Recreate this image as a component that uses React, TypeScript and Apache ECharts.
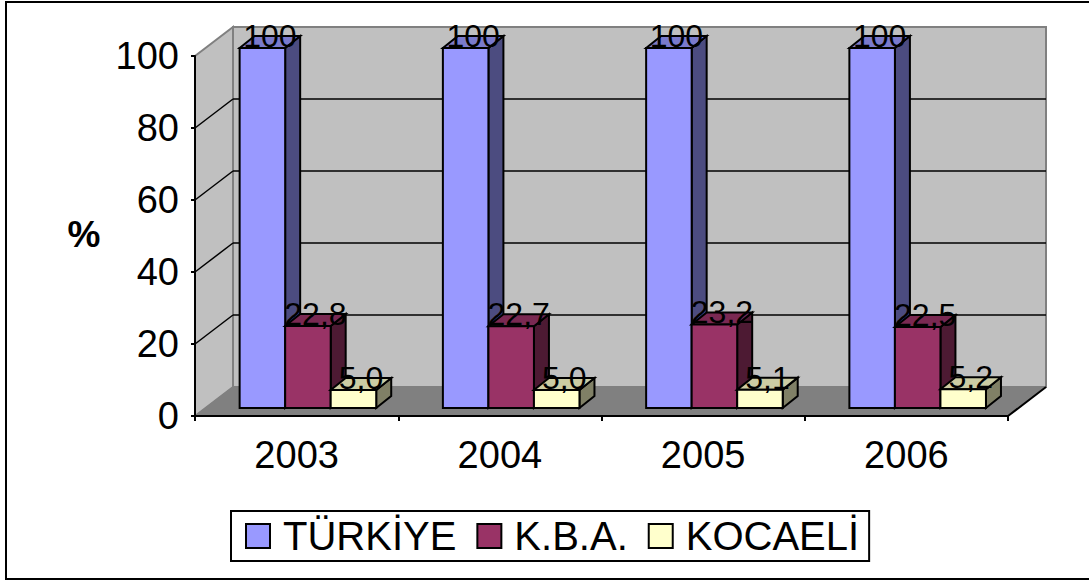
import React, { useEffect, useRef } from "react";
import * as echarts from "echarts";

const categories = ["2003", "2004", "2005", "2006"];
const seriesNames = ["TÜRKİYE", "K.B.A.", "KOCAELİ"];
const turkiye = [100, 100, 100, 100];
const kba = [22.8, 22.7, 23.2, 22.5];
const kocaeli = [5.0, 5.0, 5.1, 5.2];
const seriesValues = [turkiye, kba, kocaeli];
const seriesDecimals = [0, 1, 1];
const yTicks = [0, 20, 40, 60, 80, 100];

const FONT = "'Liberation Sans', Arial, sans-serif";
const FRONT = ["#9999FF", "#993366", "#FFFFCC"];
const TOP = ["#7A7ACC", "#7A2952", "#CCCCA3"];
const SIDE = ["#4C4C80", "#4D1A33", "#808066"];

const WALL_D = [38, -29];
const BAR_PLANE = [10, -8];
const BAR_D = [15, -12];
const BAR_FRAC = 0.224;
const BAR_SHIFT = 1.3;

function fmt(v: number, d: number) {
  return v.toFixed(d).replace(".", ",");
}

export default function App() {
  const ref = useRef<HTMLDivElement>(null);
  useEffect(() => {
    const chart = echarts.init(ref.current!, null, { renderer: "svg" });
    const yMax = yTicks[yTicks.length - 1];

    const wallsSeries: any = {
      type: "custom",
      name: "walls",
      coordinateSystem: "cartesian2d",
      silent: true,
      z: 1,
      data: [[0, 0]],
      renderItem: (params: any, api: any) => {
        const band = api.size([1, 0])[0];
        const xl = api.coord([0, 0])[0] - band / 2;
        const xr = api.coord([categories.length - 1, 0])[0] + band / 2;
        const y0 = api.coord([0, 0])[1];
        const yT = api.coord([0, yMax])[1];
        const [dx, dy] = WALL_D;
        const children: any[] = [
          {
            type: "polygon",
            shape: { points: [[xl, yT], [xl + dx, yT + dy], [xl + dx, y0 + dy], [xl, y0]] },
            style: { fill: "#C0C0C0", stroke: "#808080", lineWidth: 2 },
          },
          {
            type: "rect",
            shape: { x: xl + dx, y: yT + dy, width: xr - xl, height: y0 - yT },
            style: { fill: "#C0C0C0", stroke: "#808080", lineWidth: 2 },
          },
          {
            type: "polygon",
            shape: { points: [[xl, y0], [xl + dx, y0 + dy], [xr + dx, y0 + dy], [xr, y0]] },
            style: { fill: "#808080", stroke: "#808080", lineWidth: 1 },
          },
          {
            type: "line",
            shape: { x1: xr, y1: y0, x2: xr + dx, y2: y0 + dy },
            style: { stroke: "#000", lineWidth: 2 },
          },
        ];
        yTicks.forEach((t) => {
          if (t === 0 || t === yMax) return;
          const y = api.coord([0, t])[1];
          children.push({
            type: "line",
            shape: { x1: xl + dx, y1: y + dy, x2: xr + dx, y2: y + dy },
            style: { stroke: "#000", lineWidth: 1.5 },
          });
          children.push({
            type: "line",
            shape: { x1: xl, y1: y, x2: xl + dx, y2: y + dy },
            style: { stroke: "#000", lineWidth: 1.5 },
          });
        });
        return { type: "group", children };
      },
    };

    const barSeries = seriesNames.map((name, si) => ({
      type: "custom",
      name,
      coordinateSystem: "cartesian2d",
      z: 2 + si,
      itemStyle: { color: FRONT[si], borderColor: "#000", borderWidth: 2 },
      data: seriesValues[si].map((v, i) => [i, v]),
      renderItem: (params: any, api: any) => {
        const ci = api.value(0);
        const v = api.value(1);
        const band = api.size([1, 0])[0];
        const c = api.coord([ci, v]);
        const b = api.coord([ci, 0]);
        const bw = band * BAR_FRAC;
        const left = c[0] - 1.5 * bw + BAR_SHIFT + si * bw + BAR_PLANE[0];
        const top = c[1] + BAR_PLANE[1];
        const bottom = b[1] + BAR_PLANE[1];
        const [dx, dy] = BAR_D;
        const lw = 2;
        return {
          type: "group",
          children: [
            {
              type: "polygon",
              shape: {
                points: [[left + bw, top], [left + bw + dx, top + dy], [left + bw + dx, bottom + dy], [left + bw, bottom]],
              },
              style: { fill: SIDE[si], stroke: "#000", lineWidth: lw, lineJoin: "miter" },
            },
            {
              type: "polygon",
              shape: {
                points: [[left, top], [left + dx, top + dy], [left + bw + dx, top + dy], [left + bw, top]],
              },
              style: { fill: TOP[si], stroke: "#000", lineWidth: lw, lineJoin: "miter" },
            },
            {
              type: "rect",
              shape: { x: left, y: top, width: bw, height: bottom - top },
              style: { fill: FRONT[si], stroke: "#000", lineWidth: lw },
            },
            {
              type: "text",
              style: {
                text: fmt(v, seriesDecimals[si]),
                x: left + (bw + dx) / 2,
                y: top - 12,
                align: "center",
                verticalAlign: "middle",
                fontSize: 32,
                fontFamily: FONT,
                fill: "#000",
              },
            },
          ],
        };
      },
    }));

    chart.setOption({
      animation: false,
      backgroundColor: "#fff",
      grid: { left: 195, top: 56, width: 813, height: 360, containLabel: false },
      xAxis: {
        type: "category",
        data: categories,
        z: 10,
        axisLine: { show: true, lineStyle: { color: "#000", width: 2 } },
        axisTick: { show: true, length: 5, lineStyle: { color: "#000", width: 2 } },
        axisLabel: { fontSize: 38, color: "#000", fontFamily: FONT, margin: 20 },
        splitLine: { show: false },
      },
      yAxis: {
        type: "value",
        min: 0,
        max: yMax,
        interval: 20,
        z: 10,
        axisLine: { show: true, lineStyle: { color: "#000", width: 2 } },
        axisTick: { show: true, length: 4, lineStyle: { color: "#000", width: 2 } },
        axisLabel: { fontSize: 38, color: "#000", fontFamily: FONT, margin: 16, padding: [8, 0, 0, 0] },
        splitLine: { show: false },
      },
      legend: {
        data: seriesNames,
        left: 231,
        top: 511,
        orient: "horizontal",
        icon: "rect",
        itemWidth: 24,
        itemHeight: 24,
        itemGap: 20,
        borderColor: "#000",
        borderWidth: 2,
        padding: [5, 10, 5, 14],
        itemStyle: { borderColor: "#000", borderWidth: 2 },
        textStyle: { fontSize: 40, color: "#000", fontFamily: FONT, padding: [0, 0, 0, 8] },
        selectedMode: false,
      },
      graphic: [
        {
          type: "rect",
          shape: { x: 6, y: 2, width: 1100, height: 577 },
          style: { fill: "none", stroke: "#000", lineWidth: 2 },
          silent: true,
        },
        {
          type: "text",
          style: {
            text: "%",
            x: 84,
            y: 234,
            align: "center",
            verticalAlign: "middle",
            fontSize: 37,
            fontWeight: "bold",
            fontFamily: FONT,
            fill: "#000",
          },
          silent: true,
        },
      ],
      series: [wallsSeries, ...barSeries],
    });
    return () => chart.dispose();
  }, []);
  return (
    <div
      ref={ref}
      style={{ position: "fixed", left: 0, top: 0, width: 1089, height: 581 }}
    />
  );
}
